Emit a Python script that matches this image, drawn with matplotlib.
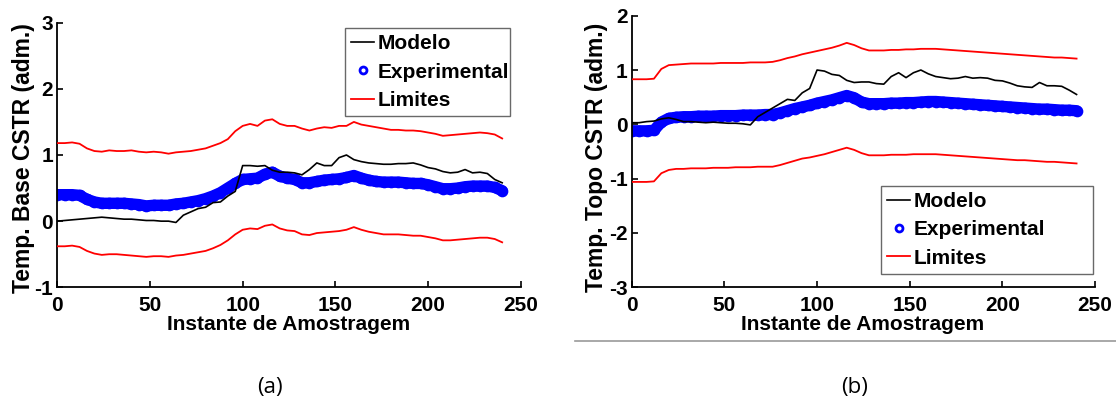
import numpy as np
import matplotlib
matplotlib.use("Agg")
import matplotlib.pyplot as plt
from matplotlib.lines import Line2D

plt.rcParams['font.family'] = ['Liberation Sans', 'DejaVu Sans']
plt.rcParams['axes.unicode_minus'] = False

# sample index (instante de amostragem)
amostras = np.arange(0, 243, 4)

# ---- (a) temperatura da base do CSTR ----
modelo_a = [0.00, 0.01, 0.02, 0.03, 0.04, 0.05, 0.06, 0.05, 0.04, 0.03,
            0.03, 0.02, 0.01, 0.01, 0.00, 0.00, -0.02, 0.09, 0.14, 0.19,
            0.21, 0.28, 0.29, 0.38, 0.45, 0.84, 0.84, 0.83, 0.84, 0.77,
            0.74, 0.74, 0.73, 0.70, 0.78, 0.88, 0.84, 0.84, 0.96, 1.00,
            0.93, 0.90, 0.88, 0.87, 0.86, 0.86, 0.87, 0.87, 0.88, 0.85,
            0.81, 0.79, 0.75, 0.73, 0.74, 0.78, 0.73, 0.74, 0.72, 0.63,
            0.58]
experimental_a = [0.40, 0.40, 0.40, 0.39, 0.33, 0.29, 0.27, 0.27, 0.27, 0.27,
                  0.26, 0.25, 0.23, 0.24, 0.24, 0.24, 0.26, 0.27, 0.29, 0.31,
                  0.34, 0.38, 0.43, 0.50, 0.57, 0.63, 0.64, 0.65, 0.71, 0.74,
                  0.68, 0.65, 0.63, 0.58, 0.58, 0.60, 0.62, 0.63, 0.64, 0.66,
                  0.69, 0.65, 0.62, 0.60, 0.59, 0.59, 0.59, 0.58, 0.57, 0.57,
                  0.55, 0.52, 0.49, 0.49, 0.50, 0.52, 0.53, 0.53, 0.53, 0.51,
                  0.46]
lim_sup_a = [1.18, 1.18, 1.19, 1.17, 1.10, 1.06, 1.05, 1.07, 1.06, 1.06,
             1.07, 1.05, 1.04, 1.05, 1.04, 1.02, 1.04, 1.05, 1.06, 1.08,
             1.10, 1.14, 1.18, 1.24, 1.36, 1.44, 1.47, 1.44, 1.52, 1.54,
             1.47, 1.44, 1.44, 1.40, 1.37, 1.40, 1.42, 1.41, 1.44, 1.44,
             1.50, 1.46, 1.44, 1.42, 1.40, 1.38, 1.38, 1.37, 1.37, 1.36,
             1.34, 1.32, 1.29, 1.30, 1.31, 1.32, 1.33, 1.34, 1.33, 1.31,
             1.25]
lim_inf_a = [-0.38, -0.38, -0.37, -0.39, -0.45, -0.49, -0.51, -0.50, -0.50, -0.51,
             -0.52, -0.53, -0.54, -0.53, -0.53, -0.54, -0.52, -0.51, -0.49, -0.47,
             -0.45, -0.41, -0.36, -0.29, -0.20, -0.13, -0.11, -0.12, -0.07, -0.05,
             -0.11, -0.14, -0.15, -0.20, -0.21, -0.18, -0.17, -0.16, -0.15, -0.13,
             -0.09, -0.13, -0.16, -0.18, -0.20, -0.20, -0.20, -0.21, -0.22, -0.22,
             -0.24, -0.26, -0.29, -0.29, -0.28, -0.27, -0.26, -0.25, -0.25, -0.27,
             -0.32]

# ---- (b) temperatura do topo do CSTR ----
modelo_b = [0.03, 0.03, 0.05, 0.06, 0.10, 0.12, 0.09, 0.05, 0.05, 0.04,
            0.03, 0.04, 0.03, 0.02, 0.02, 0.01, -0.01, 0.14, 0.22, 0.30,
            0.38, 0.46, 0.44, 0.58, 0.66, 1.00, 0.98, 0.92, 0.90, 0.81,
            0.77, 0.78, 0.78, 0.75, 0.74, 0.88, 0.95, 0.86, 0.95, 1.00,
            0.93, 0.88, 0.86, 0.84, 0.85, 0.88, 0.85, 0.86, 0.85, 0.81,
            0.80, 0.76, 0.71, 0.69, 0.68, 0.77, 0.71, 0.71, 0.70, 0.63,
            0.55]
experimental_b = [-0.12, -0.12, -0.12, -0.11, 0.04, 0.11, 0.13, 0.14, 0.14, 0.15,
                  0.15, 0.15, 0.16, 0.16, 0.16, 0.17, 0.17, 0.17, 0.18, 0.18,
                  0.21, 0.25, 0.29, 0.32, 0.35, 0.39, 0.42, 0.45, 0.49, 0.53,
                  0.49, 0.41, 0.38, 0.38, 0.38, 0.39, 0.39, 0.40, 0.40, 0.41,
                  0.42, 0.42, 0.41, 0.40, 0.39, 0.38, 0.37, 0.36, 0.35, 0.34,
                  0.33, 0.32, 0.31, 0.30, 0.29, 0.28, 0.28, 0.27, 0.26, 0.26,
                  0.25]
lim_sup_b = [0.83, 0.83, 0.83, 0.84, 1.02, 1.09, 1.10, 1.11, 1.12, 1.12,
             1.12, 1.12, 1.13, 1.13, 1.13, 1.13, 1.14, 1.14, 1.14, 1.15,
             1.18, 1.22, 1.25, 1.29, 1.32, 1.35, 1.38, 1.41, 1.45, 1.50,
             1.46, 1.40, 1.36, 1.36, 1.36, 1.37, 1.37, 1.38, 1.38, 1.39,
             1.39, 1.39, 1.38, 1.37, 1.36, 1.35, 1.34, 1.33, 1.32, 1.31,
             1.30, 1.29, 1.28, 1.27, 1.26, 1.25, 1.24, 1.23, 1.23, 1.22,
             1.21]
lim_inf_b = [-1.06, -1.06, -1.06, -1.05, -0.90, -0.84, -0.82, -0.82, -0.81, -0.81,
             -0.81, -0.80, -0.80, -0.80, -0.79, -0.79, -0.79, -0.78, -0.78, -0.78,
             -0.75, -0.71, -0.67, -0.63, -0.61, -0.58, -0.55, -0.51, -0.47, -0.43,
             -0.47, -0.53, -0.57, -0.57, -0.57, -0.56, -0.56, -0.56, -0.55, -0.55,
             -0.55, -0.55, -0.56, -0.57, -0.58, -0.59, -0.60, -0.61, -0.62, -0.63,
             -0.64, -0.65, -0.66, -0.66, -0.67, -0.68, -0.69, -0.69, -0.70, -0.71,
             -0.72]

x_ticks = [0, 50, 100, 150, 200, 250]
y_ticks_a = [-1, 0, 1, 2, 3]
y_ticks_b = [-3, -2, -1, 0, 1, 2]
nomes = ['Modelo', 'Experimental', 'Limites']

W, H = 1116, 418
fig = plt.figure(figsize=(W / 100, H / 100), dpi=100)

def px_axes(left, top, right, bottom):
    return [left / W, 1 - bottom / H, (right - left) / W, (bottom - top) / H]

ax_a = fig.add_axes(px_axes(57.3, 22.7, 520.7, 287.3))
ax_b = fig.add_axes(px_axes(631.7, 15.7, 1095.1, 287.3))

TXT = dict(fontsize=15, fontweight='bold')
AZUL = '#0000ff'

def draw(ax, modelo, exp, sup, inf, yticks, ylim):
    # dense circle markers merge into a thick band
    ax.plot(amostras, exp, color=AZUL, lw=8.2, solid_capstyle='round',
            solid_joinstyle='round', zorder=2)
    ax.plot(amostras, exp, ls='none', marker='o', ms=7.2, mfc=AZUL,
            mec=AZUL, mew=1.2, zorder=2)
    ax.plot(amostras, modelo, color='black', lw=1.2, zorder=3)
    ax.plot(amostras, sup, color='#ff0000', lw=1.3, zorder=3)
    ax.plot(amostras, inf, color='#ff0000', lw=1.3, zorder=3)
    ax.set_xlim(0, 250)
    ax.set_ylim(*ylim)
    ax.set_xticks(x_ticks)
    ax.set_yticks(yticks)
    for s in ('top', 'right'):
        ax.spines[s].set_visible(False)
    for s in ('left', 'bottom'):
        ax.spines[s].set_linewidth(1.3)
    ax.tick_params(direction='in', length=4, width=1.2, labelsize=15)
    ax.tick_params(axis='x', pad=6)
    ax.tick_params(axis='y', pad=3)
    for lab in ax.get_xticklabels() + ax.get_yticklabels():
        lab.set_fontweight('bold')

draw(ax_a, modelo_a, experimental_a, lim_sup_a, lim_inf_a, y_ticks_a, (-1, 3))
draw(ax_b, modelo_b, experimental_b, lim_sup_b, lim_inf_b, y_ticks_b, (-3, 2))

handles = [
    Line2D([], [], color='black', lw=1.2),
    Line2D([], [], ls='none', marker='o', ms=5, mfc='white', mec=AZUL, mew=2),
    Line2D([], [], color='#ff0000', lw=1.3),
]

def legenda(ax, bbox):
    leg = ax.legend(handles, nomes, loc='upper left', bbox_to_anchor=bbox,
                    mode='expand', borderaxespad=0, fancybox=False,
                    prop=dict(size=15, weight='bold'), handlelength=1.1,
                    handletextpad=0.15, borderpad=0.3, labelspacing=0.45,
                    frameon=True)
    leg.get_frame().set_edgecolor('#444444')
    leg.get_frame().set_linewidth(1.0)

legenda(ax_a, (0.621, 0.647, 0.356, 0.333))
legenda(ax_b, (0.538, 0.053, 0.457, 0.321))

# axis titles
fig.text(24 / W, 1 - 158 / H, 'Temp. Base CSTR (adm.)', rotation=90,
         ha='center', va='center', fontsize=16.5, fontweight='bold')
fig.text(597 / W, 1 - 157 / H, 'Temp. Topo CSTR (adm.)', rotation=90,
         ha='center', va='center', fontsize=16.5, fontweight='bold')
fig.text(289 / W, 1 - 325 / H, 'Instante de Amostragem', ha='center',
         va='center', **TXT)
fig.text(863 / W, 1 - 325 / H, 'Instante de Amostragem', ha='center',
         va='center', **TXT)

# separator under panel (b)
fig.add_artist(Line2D([575 / W, 1.0], [1 - 341 / H, 1 - 341 / H],
                      color='#9a9a9a', lw=1.2, transform=fig.transFigure))

fig.text(270 / W, 1 - 387 / H, '(a)', ha='center', va='center',
         fontsize=16, family='Open Sans')
fig.text(855 / W, 1 - 387 / H, '(b)', ha='center', va='center',
         fontsize=16, family='Open Sans')

fig.savefig('out.png', dpi=100)
